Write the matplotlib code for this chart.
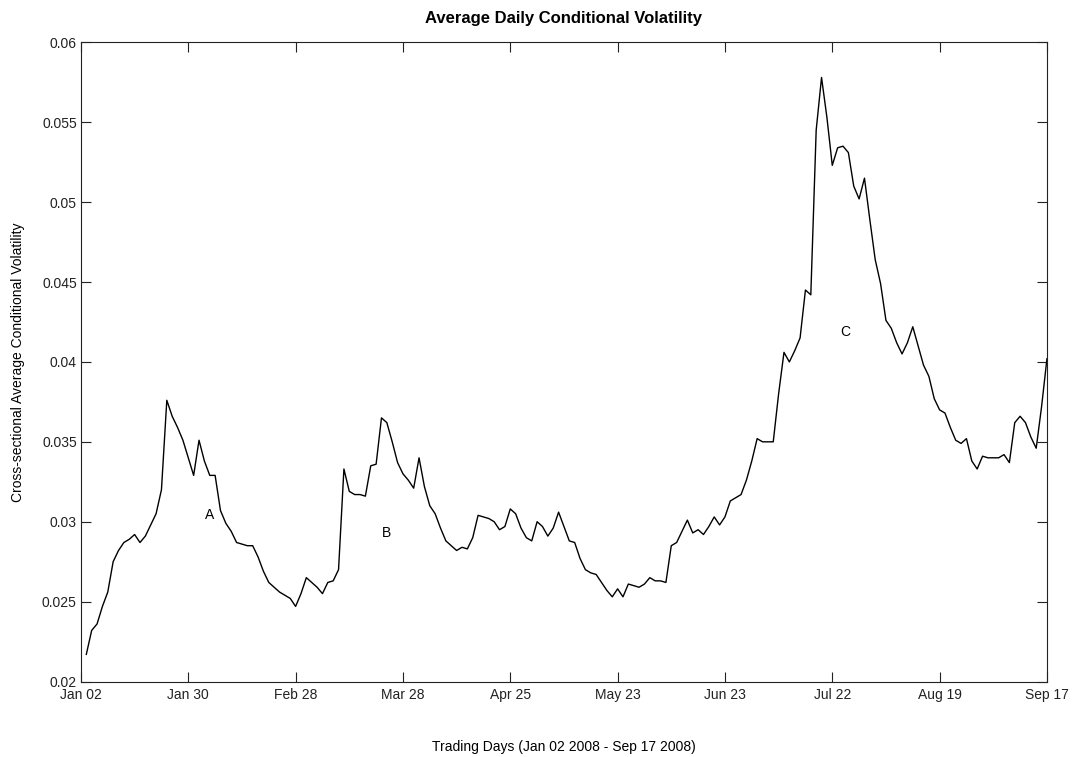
import matplotlib
matplotlib.use("Agg")
import matplotlib.pyplot as plt
import numpy as np

plt.rcParams['font.family'] = ['Liberation Sans', 'DejaVu Sans']

# Cross-sectional average conditional volatility, one value per trading day
volatility = [
    0.0217, 0.0232, 0.0236, 0.0247, 0.0256, 0.0275, 0.0282, 0.0287, 0.0289, 0.0292,
    0.0287, 0.0291, 0.0298, 0.0305, 0.0320, 0.0376, 0.0366, 0.0359, 0.0351, 0.0340,
    0.0329, 0.0351, 0.0338, 0.0329, 0.0329, 0.0307, 0.0299, 0.0294, 0.0287, 0.0286,
    0.0285, 0.0285, 0.0278, 0.0269, 0.0262, 0.0259, 0.0256, 0.0254, 0.0252, 0.0247,
    0.0255, 0.0265, 0.0262, 0.0259, 0.0255, 0.0262, 0.0263, 0.0270, 0.0333, 0.0319,
    0.0317, 0.0317, 0.0316, 0.0335, 0.0336, 0.0365, 0.0362, 0.0350, 0.0337, 0.0330,
    0.0326, 0.0321, 0.0340, 0.0322, 0.0310, 0.0305, 0.0296, 0.0288, 0.0285, 0.0282,
    0.0284, 0.0283, 0.0290, 0.0304, 0.0303, 0.0302, 0.0300, 0.0295, 0.0297, 0.0308,
    0.0305, 0.0296, 0.0290, 0.0288, 0.0300, 0.0297, 0.0291, 0.0296, 0.0306, 0.0297,
    0.0288, 0.0287, 0.0277, 0.0270, 0.0268, 0.0267, 0.0262, 0.0257, 0.0253, 0.0258,
    0.0253, 0.0261, 0.0260, 0.0259, 0.0261, 0.0265, 0.0263, 0.0263, 0.0262, 0.0285,
    0.0287, 0.0294, 0.0301, 0.0293, 0.0295, 0.0292, 0.0297, 0.0303, 0.0298, 0.0303,
    0.0313, 0.0315, 0.0317, 0.0326, 0.0338, 0.0352, 0.0350, 0.0350, 0.0350, 0.0380,
    0.0406, 0.0400, 0.0407, 0.0415, 0.0445, 0.0442, 0.0545, 0.0578, 0.0553, 0.0523,
    0.0534, 0.0535, 0.0531, 0.0510, 0.0502, 0.0515, 0.0489, 0.0464, 0.0449, 0.0426,
    0.0421, 0.0412, 0.0405, 0.0412, 0.0422, 0.0410, 0.0398, 0.0391, 0.0377, 0.0370,
    0.0368, 0.0359, 0.0351, 0.0349, 0.0352, 0.0338, 0.0333, 0.0341, 0.0340, 0.0340,
    0.0340, 0.0342, 0.0337, 0.0362, 0.0366, 0.0362, 0.0353, 0.0346, 0.0372, 0.0402,
]
days = np.arange(1, len(volatility) + 1)

tick_days = [0, 20, 40, 60, 80, 100, 120, 140, 160, 180]
tick_labels = ["Jan 02", "Jan 30", "Feb 28", "Mar 28", "Apr 25",
               "May 23", "Jun 23", "Jul 22", "Aug 19", "Sep 17"]
y_ticks = [0.02, 0.025, 0.03, 0.035, 0.04, 0.045, 0.05, 0.055, 0.06]
y_labels = ["0.02", "0.025", "0.03", "0.035", "0.04", "0.045", "0.05", "0.055", "0.06"]

# Episode markers: (label, day, level)
episode_names = ["A", "B", "C"]
episode_days = [24, 57, 142.5]
episode_levels = [0.0304, 0.0293, 0.0419]

fig = plt.figure(figsize=(10.75, 7.57), dpi=100)
ax = fig.add_axes([0.0753, 0.0997, 0.8986, 0.8444])

ax.plot(days, volatility, color="black", linewidth=1.0)

for name, d, lvl in zip(episode_names, episode_days, episode_levels):
    ax.text(d, lvl, name, ha="center", va="center", fontsize=10)

ax.set_xlim(0, 180)
ax.set_ylim(0.02, 0.06)
ax.set_xticks(tick_days)
ax.set_xticklabels(tick_labels)
ax.set_yticks(y_ticks)
ax.set_yticklabels(y_labels)

ax.tick_params(direction="in", length=7, width=0.8, top=True, right=True,
               labelsize=10, colors="#222222")
ax.tick_params(axis="x", pad=5)
ax.tick_params(axis="y", pad=3)
for s in ax.spines.values():
    s.set_color("#222222")
    s.set_linewidth(0.8)

ax.set_title("Average Daily Conditional Volatility", fontsize=12,
             fontweight="bold", pad=14)
ax.set_ylabel("Cross-sectional Average Conditional Volatility", fontsize=10,
              labelpad=12)
ax.set_xlabel("Trading Days (Jan 02 2008 - Sep 17 2008)", fontsize=10,
              labelpad=27)

fig.savefig("out.png", dpi=100)
